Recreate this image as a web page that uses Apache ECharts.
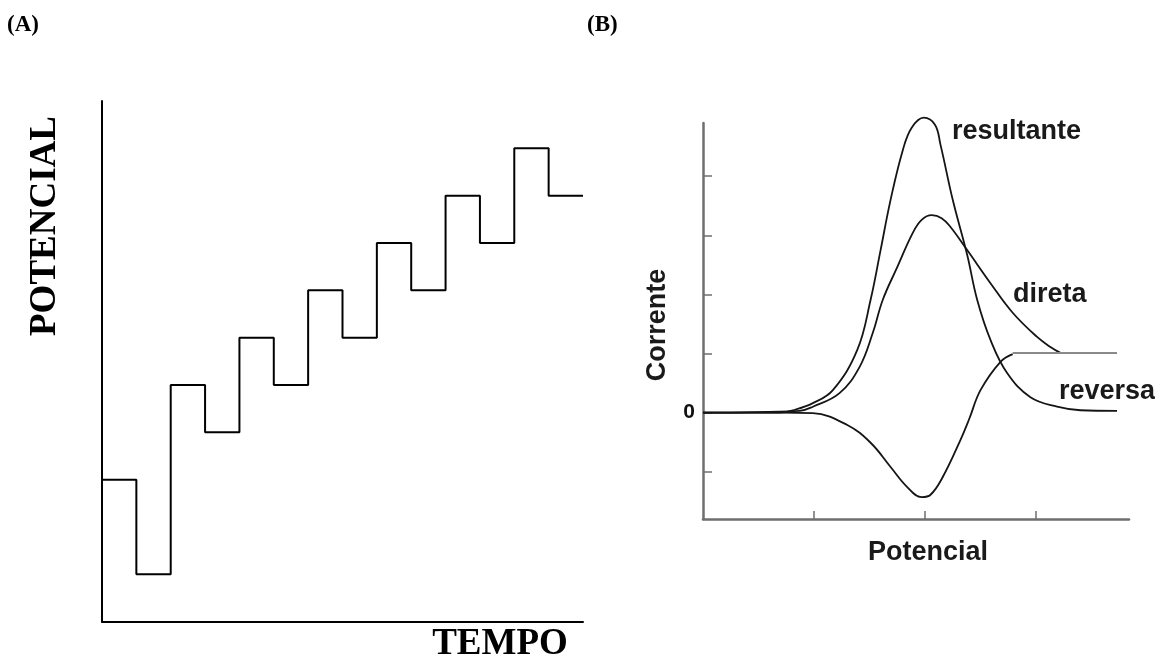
<!DOCTYPE html>
<html>
<head>
<meta charset="utf-8">
<script src="https://cdn.jsdelivr.net/npm/echarts@6/dist/echarts.min.js"></script>
<style>
  html, body { margin: 0; padding: 0; background: #fff; }
  #main { width: 1155px; height: 659px; }
</style>
</head>
<body>
<div id="main"></div>
<script>
// (A) staircase waveform: potential level for each half step
var stepLevels = [3, 1, 5, 4, 6, 5, 7, 6, 8, 7, 9, 8, 10, 9];

// (B) square-wave voltammogram curves (x = potential, y = current)
var resultanteX = [0, 0.69, 0.81, 0.99, 1.17, 1.39, 1.51, 1.60, 1.69, 1.80, 1.88, 1.99, 2.09, 2.14, 2.25, 2.38, 2.47, 2.59, 2.74, 2.95, 3.19, 3.40, 3.73];
var resultanteY = [0, 0, 0.04, 0.16, 0.38, 1.06, 1.91, 2.75, 3.60, 4.44, 4.82, 4.99, 4.87, 4.53, 3.60, 2.67, 1.91, 1.23, 0.67, 0.26, 0.10, 0.04, 0.03];

var diretaX = [0, 0.87, 0.99, 1.23, 1.41, 1.53, 1.62, 1.75, 1.89, 1.97, 2.06, 2.15, 2.23, 2.38, 2.59, 2.79, 3.01, 3.13, 3.22];
var diretaY = [0, 0.03, 0.10, 0.33, 0.77, 1.35, 1.91, 2.46, 3.04, 3.26, 3.34, 3.29, 3.14, 2.75, 2.19, 1.69, 1.28, 1.11, 1.01];

var reversaX = [0, 0.69, 0.99, 1.30, 1.51, 1.69, 1.84, 1.97, 2.05, 2.16, 2.32, 2.40, 2.50, 2.68, 2.79];
var reversaY = [0, 0, -0.01, -0.21, -0.51, -0.92, -1.26, -1.43, -1.39, -1.09, -0.46, -0.10, 0.38, 0.86, 0.99];

var plateauX = [2.79, 3.73];
var plateauY = [1.01, 1.01];

var yTicksB = [-1, 0, 1, 2, 3, 4];
var xTicksB = [1, 2, 3];

function pairs(xs, ys) {
  var out = [];
  for (var i = 0; i < xs.length; i++) out.push([xs[i], ys[i]]);
  return out;
}

var stepData = [];
for (var i = 0; i < stepLevels.length; i++) stepData.push([i, stepLevels[i]]);
stepData.push([stepLevels.length, stepLevels[stepLevels.length - 1]]);

var chart = echarts.init(document.getElementById('main'));

var serif = '"Liberation Serif", "Times New Roman", serif';
var sans = '"Liberation Sans", Arial, sans-serif';
var grayAxis = '#6f6f6f';
var curve = { color: '#151515', width: 1.8 };

var option = {
  animation: false,
  backgroundColor: '#fff',
  grid: [
    { left: 102, top: 101, width: 481, height: 520.7 },
    { left: 703, top: 123, width: 426, height: 396 }
  ],
  xAxis: [
    {
      gridIndex: 0, type: 'value', min: 0, max: 14,
      axisLine: { show: true, lineStyle: { color: '#000', width: 2 } },
      axisTick: { show: false }, axisLabel: { show: false }, splitLine: { show: false }
    },
    {
      gridIndex: 1, type: 'value', min: 0, max: 3.838,
      axisLine: { show: true, onZero: false, lineStyle: { color: grayAxis, width: 2.5 } },
      axisTick: { show: true, inside: true, length: 8, customValues: xTicksB, lineStyle: { color: grayAxis, width: 1.5 } },
      axisLabel: { show: false }, splitLine: { show: false }
    }
  ],
  yAxis: [
    {
      gridIndex: 0, type: 'value', min: 0, max: 11,
      axisLine: { show: true, lineStyle: { color: '#000', width: 2 } },
      axisTick: { show: false }, axisLabel: { show: false }, splitLine: { show: false }
    },
    {
      gridIndex: 1, type: 'value', min: -1.8, max: 4.9,
      axisLine: { show: true, onZero: false, lineStyle: { color: grayAxis, width: 2.5 } },
      axisTick: { show: true, inside: true, length: 9, customValues: yTicksB, lineStyle: { color: grayAxis, width: 1.5 } },
      axisLabel: {
        show: true, customValues: [0], margin: 8,
        formatter: function (v) { return v === 0 ? '0' : ''; },
        color: '#111', fontFamily: sans, fontWeight: 'bold', fontSize: 21
      },
      splitLine: { show: false }
    }
  ],
  series: [
    {
      type: 'line', xAxisIndex: 0, yAxisIndex: 0, step: 'end',
      data: stepData, symbol: 'none',
      lineStyle: { color: '#000', width: 2 }
    },
    {
      name: 'resultante', type: 'line', xAxisIndex: 1, yAxisIndex: 1, clip: false,
      data: pairs(resultanteX, resultanteY), symbol: 'none', smooth: 0.4,
      lineStyle: curve
    },
    {
      name: 'direta', type: 'line', xAxisIndex: 1, yAxisIndex: 1, clip: false,
      data: pairs(diretaX, diretaY), symbol: 'none', smooth: 0.4,
      lineStyle: curve
    },
    {
      name: 'reversa', type: 'line', xAxisIndex: 1, yAxisIndex: 1, clip: false,
      data: pairs(reversaX, reversaY), symbol: 'none', smooth: 0.4,
      lineStyle: curve
    },
    {
      type: 'line', xAxisIndex: 1, yAxisIndex: 1,
      data: pairs(plateauX, plateauY), symbol: 'none',
      lineStyle: { color: '#8a8a8a', width: 2 }
    }
  ],
  graphic: [
    { type: 'text', left: 7, top: 14, style: { text: '(A)', font: 'bold 23px ' + serif, fill: '#000' } },
    { type: 'text', left: 587, top: 14, style: { text: '(B)', font: 'bold 23px ' + serif, fill: '#000' } },
    {
      type: 'text', x: 45.5, y: 226, rotation: Math.PI / 2,
      style: { text: 'POTENCIAL', font: 'bold 37px ' + serif, fill: '#000', textAlign: 'center', textVerticalAlign: 'middle' }
    },
    {
      type: 'text', x: 500, y: 644.5,
      style: { text: 'TEMPO', font: 'bold 37px ' + serif, fill: '#000', textAlign: 'center', textVerticalAlign: 'middle' }
    },
    {
      type: 'text', x: 658, y: 325, rotation: Math.PI / 2,
      style: { text: 'Corrente', font: 'bold 27px ' + sans, fill: '#1a1a1a', textAlign: 'center', textVerticalAlign: 'middle' }
    },
    {
      type: 'text', x: 928, y: 553,
      style: { text: 'Potencial', font: 'bold 27px ' + sans, fill: '#1a1a1a', textAlign: 'center', textVerticalAlign: 'middle' }
    },
    {
      type: 'text', x: 952, y: 132,
      style: { text: 'resultante', font: 'bold 27px ' + sans, fill: '#1a1a1a', textAlign: 'left', textVerticalAlign: 'middle' }
    },
    {
      type: 'text', x: 1013, y: 295,
      style: { text: 'direta', font: 'bold 27px ' + sans, fill: '#1a1a1a', textAlign: 'left', textVerticalAlign: 'middle' }
    },
    {
      type: 'text', x: 1059, y: 392,
      style: { text: 'reversa', font: 'bold 27px ' + sans, fill: '#1a1a1a', textAlign: 'left', textVerticalAlign: 'middle' }
    }
  ]
};

chart.setOption(option);
</script>
</body>
</html>
